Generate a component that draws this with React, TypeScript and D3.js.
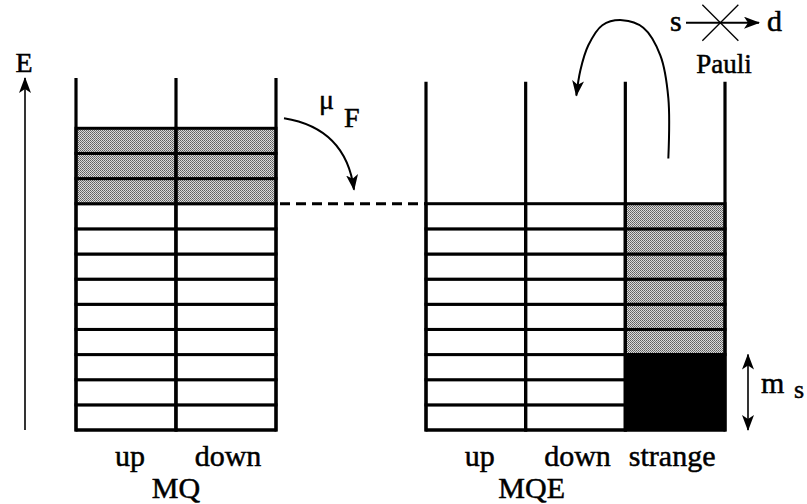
import React from "react";
import * as d3 from "d3";

const W = 807;
const H = 504;

// Panel MQ: flavours and the number of levels of each kind, counted from the bottom
const mqFlavors = ["up", "down"];
const mqMassLevels = [0, 0];
const mqEmptyLevels = [9, 9];
const mqFermiLevels = [3, 3];

// Panel MQE
const mqeFlavors = ["up", "down", "strange"];
const mqeMassLevels = [0, 0, 3];
const mqeEmptyLevels = [9, 9, 0];
const mqeFermiLevels = [0, 0, 6];

const panelNames = ["MQ", "MQE"];
const panelWallTops = [14, 13.85];
const fermiLevel = 9;
const wallTop = 14;
const massLevels = 3;

type Cell = { flavor: string; level: number; kind: "empty" | "fermi" };

function buildCells(flavors: string[], mass: number[], empty: number[], fermi: number[]): Cell[] {
  const cells: Cell[] = [];
  flavors.forEach((f, i) => {
    let lvl = mass[i];
    for (let k = 0; k < empty[i]; k++) cells.push({ flavor: f, level: lvl++, kind: "empty" });
    for (let k = 0; k < fermi[i]; k++) cells.push({ flavor: f, level: lvl++, kind: "fermi" });
  });
  return cells;
}

function T(props: { x: number; y: number; size: number; anchor?: string; children: React.ReactNode }) {
  return (
    <text
      x={props.x}
      y={props.y}
      fontSize={props.size}
      fontFamily="Liberation Serif"
      textAnchor={props.anchor || "start"}
      fill="#000"
      stroke="#000"
      strokeWidth={0.5}
    >
      {props.children}
    </text>
  );
}

export default function App() {
  const y = d3.scaleLinear().domain([0, wallTop]).range([430, 78]);
  const xMQ = d3.scaleBand<string>().domain(mqFlavors).range([76, 276]);
  const xMQE = d3.scaleBand<string>().domain(mqeFlavors).range([426, 725]);

  const panels = [
    { name: panelNames[0], top: panelWallTops[0], x: xMQ, mass: mqMassLevels, cells: buildCells(mqFlavors, mqMassLevels, mqEmptyLevels, mqFermiLevels), flavors: mqFlavors },
    { name: panelNames[1], top: panelWallTops[1], x: xMQE, mass: mqeMassLevels, cells: buildCells(mqeFlavors, mqeMassLevels, mqeEmptyLevels, mqeFermiLevels), flavors: mqeFlavors },
  ];

  const [, mqR] = xMQ.range();
  const [mqeL, mqeR] = xMQE.range();
  const sx = xMQE("strange")!;

  // mu_F arrow
  const muStart: [number, number] = [mqR + 8, y(12.4)];
  const muEnd: [number, number] = [mqR + 78, y(fermiLevel) - 14];
  const muPath = d3.path();
  muPath.moveTo(...muStart);
  muPath.quadraticCurveTo(mqR + 70, y(12.0), ...muEnd);

  // big Pauli arrow
  const bigPts: [number, number][] = [
    [sx + 43, y(10.8)],
    [sx + 43, y(13.2)],
    [sx + 35, y(14.9)],
    [sx + 18, y(16.0)],
    [sx - 3, y(16.3)],
    [sx - 23, y(16.1)],
    [sx - 37, y(15.3)],
    [sx - 45, y(14.3)],
    [sx - 49, y(13.3)],
  ];
  const bigLine = d3.line().curve(d3.curveCatmullRom.alpha(0.5))(bigPts) || "";

  const sdY = y(16.2);
  const crossX = sx + 95;

  return (
    <div style={{ position: "absolute", left: 0, top: 0 }}>
      <svg width={W} height={H} style={{ display: "block", background: "#fff" }}>
        <defs>
          <pattern id="dither" width="2" height="2" patternUnits="userSpaceOnUse">
            <rect width="2" height="2" fill="#dadada" />
            <rect x="0" y="0" width="1" height="1" fill="#5e5e5e" />
            <rect x="1" y="1" width="1" height="1" fill="#757575" />
          </pattern>
          <marker id="ahb" viewBox="0 0 16 12" refX="15" refY="6" markerWidth="16" markerHeight="12" markerUnits="userSpaceOnUse" orient="auto-start-reverse">
            <path d="M0,0 L16,6 L0,12 L4,6 Z" fill="#000" />
          </marker>
        </defs>

        {/* Energy axis */}
        <line x1={25} x2={25} y1={y(0)} y2={y(wallTop)} stroke="#000" strokeWidth={1.6} markerEnd="url(#ahb)" />
        <T x={24} y={72} size={28} anchor="middle">E</T>

        {panels.map((p) => {
          const [l, r] = p.x.range();
          const bw = p.x.bandwidth();
          const bounds = [...p.flavors.map((f) => p.x(f)!), r];
          return (
            <g key={p.name}>
              {p.cells.map((c, i) => (
                <rect
                  key={i}
                  x={p.x(c.flavor)!}
                  y={y(c.level + 1)}
                  width={bw}
                  height={y(c.level) - y(c.level + 1)}
                  fill={c.kind === "fermi" ? "url(#dither)" : "#fff"}
                  stroke="#000"
                  strokeWidth={3}
                />
              ))}
              {p.flavors.map((f, i) =>
                p.mass[i] > 0 ? (
                  <rect key={"m" + f} x={p.x(f)!} y={y(p.mass[i])} width={bw} height={y(0) - y(p.mass[i])} fill="#000" stroke="#000" strokeWidth={3} />
                ) : null
              )}
              {bounds.map((bx, i) => (
                <line key={i} x1={bx} x2={bx} y1={y(0) + 1.5} y2={y(p.top)} stroke="#000" strokeWidth={3.2} />
              ))}
              <line x1={l} x2={r} y1={y(0)} y2={y(0)} stroke="#000" strokeWidth={3} />
              {p.flavors.map((f) => (
                <T key={f} x={p.x(f)! + bw / 2 + (f === "up" ? 4 : f === "strange" ? -3 : 2)} y={466} size={30} anchor="middle">
                  {f}
                </T>
              ))}
              <T x={p.x(p.flavors[1])! + (p.flavors.length === 2 ? 0 : 6)} y={498} size={30} anchor="middle">
                {p.name}
              </T>
            </g>
          );
        })}

        {/* Fermi level dashed line */}
        <line x1={mqR} x2={mqeL} y1={y(fermiLevel)} y2={y(fermiLevel)} stroke="#000" strokeWidth={3} strokeDasharray="10,6" strokeDashoffset={-4} />

        {/* mu_F */}
        <path d={muPath.toString()} fill="none" stroke="#000" strokeWidth={2} markerEnd="url(#ahb)" />
        <T x={319} y={109} size={28}>μ</T>
        <T x={344} y={127} size={28}>F</T>

        {/* Pauli arrow */}
        <path d={bigLine} fill="none" stroke="#000" strokeWidth={2} markerEnd="url(#ahb)" />
        <T x={670} y={sdY + 8} size={30}>s</T>
        <line x1={686} x2={759} y1={sdY} y2={sdY} stroke="#000" strokeWidth={2} markerEnd="url(#ahb)" />
        <line x1={crossX - 18} x2={crossX + 18} y1={sdY - 18} y2={sdY + 18} stroke="#000" strokeWidth={1.3} />
        <line x1={crossX + 18} x2={crossX - 18} y1={sdY - 18} y2={sdY + 18} stroke="#000" strokeWidth={1.3} />
        <T x={767} y={sdY + 8} size={30}>d</T>
        <T x={724} y={73} size={27} anchor="middle">Pauli</T>

        {/* m_s */}
        <line x1={mqeR + 23} x2={mqeR + 23} y1={y(0)} y2={y(massLevels)} stroke="#000" strokeWidth={1.6} markerEnd="url(#ahb)" markerStart="url(#ahb)" />
        <T x={761} y={393} size={30}>m</T>
        <T x={794} y={398} size={26}>s</T>
      </svg>
    </div>
  );
}
